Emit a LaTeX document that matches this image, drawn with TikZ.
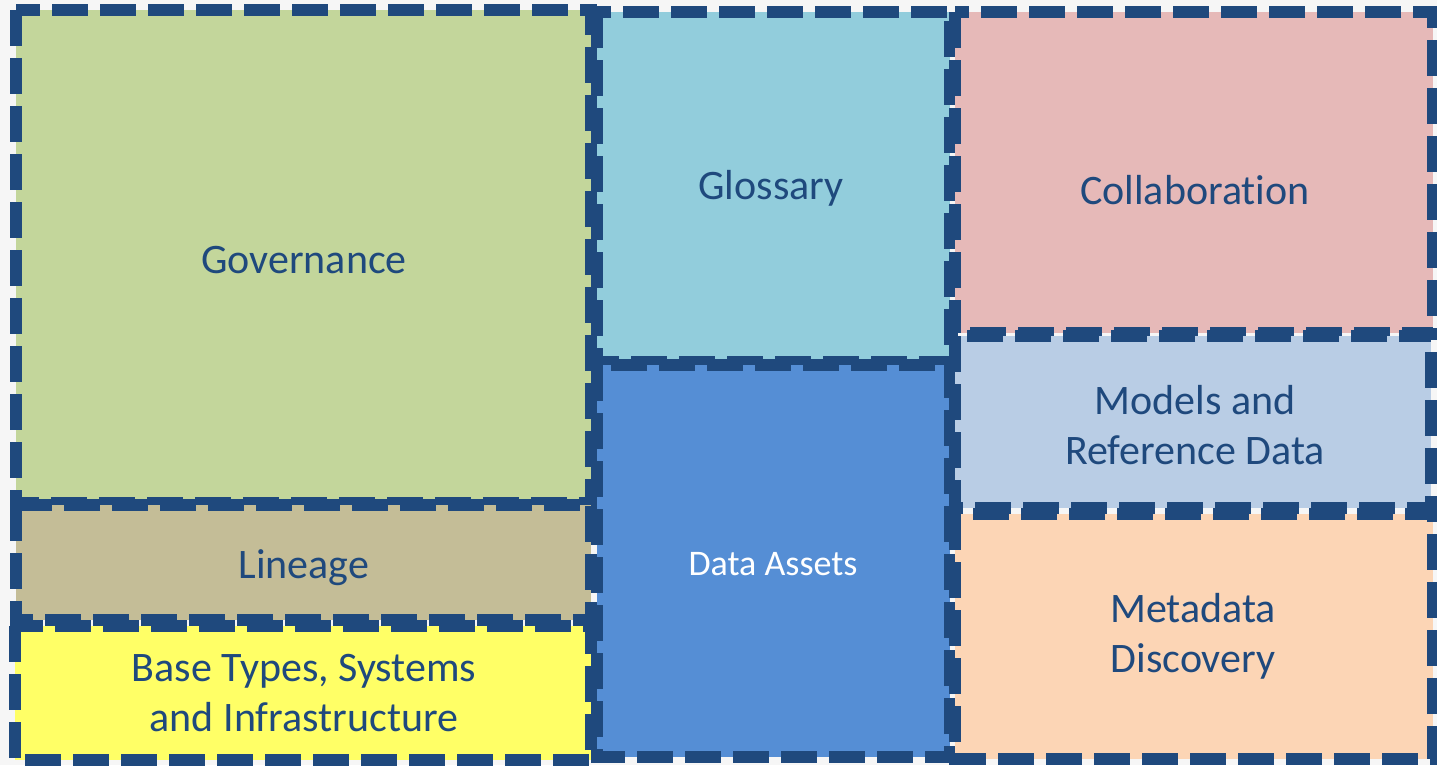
\documentclass[tikz,border=0pt]{standalone}
\usepackage{fontspec}
\setmainfont{Carlito}[RawFeature={-liga}]
\definecolor{bordc}{HTML}{1F497D}
\definecolor{txtc}{HTML}{1F497D}
\definecolor{govc}{HTML}{C3D69B}
\definecolor{linc}{HTML}{C4BD97}
\definecolor{basec}{HTML}{FFFF66}
\definecolor{glosc}{HTML}{92CDDC}
\definecolor{datac}{HTML}{558ED5}
\definecolor{collc}{HTML}{E6B9B8}
\definecolor{modc}{HTML}{B9CDE5}
\definecolor{metac}{HTML}{FCD5B5}
\definecolor{bgc}{HTML}{F6F6F6}
\tikzset{
  areabox/.style={draw=bordc, line width=12bp, dash pattern=on 36bp off 12bp, inner sep=0pt, rectangle},
  lbl/.style={text=txtc, font=\fontsize{42bp}{50bp}\selectfont, align=center, inner sep=0pt},
}
\begin{document}
\begin{tikzpicture}[x=1bp,y=-1bp]
\fill[bgc] (0,0) rectangle (1437,765);
\useasboundingbox (0,0) rectangle (1437,765);
% left column
\draw[areabox, fill=govc] (16,10) rectangle (591,503) node[pos=0.5] (govbox) {};
\draw[areabox, fill=linc] (16,505) rectangle (591,620) node[pos=0.5] (linbox) {};
\draw[areabox, fill=basec] (15,626) rectangle (591,760) node[pos=0.5] (basebox) {};
% middle column
\draw[areabox, fill=glosc] (597,12) rectangle (950,362) node[pos=0.5] (glosbox) {};
\draw[areabox, fill=datac] (597,365) rectangle (950,757) node[pos=0.5] (databox) {};
% right column
\draw[areabox, fill=collc] (955,12) rectangle (1433,333) node[pos=0.5] (collbox) {};
\draw[areabox, fill=modc] (955,336) rectangle (1431,508) node[pos=0.5] (modbox) {};
\draw[areabox, fill=metac] (955,514) rectangle (1433,759) node[pos=0.5] (metabox) {};
% labels
\node[lbl] (gov) at (304,260) {Governance};
\node[lbl] (lin) at (304,568) {Lineage};
\node[lbl] (base) at (304,693) {Base Types, Systems\\and Infrastructure};
\node[lbl] (glos) at (771,188) {Glossary};
\node[lbl, text=white, font=\fontsize{36bp}{43bp}\selectfont] (data) at (773,564) {Data Assets};
\node[lbl] (coll) at (1195,190) {Collaboration};
\node[lbl] (mod) at (1195,425) {Models and\\Reference Data};
\node[lbl] (meta) at (1193,636) {Metadata\\Discovery};
\end{tikzpicture}
\end{document}
